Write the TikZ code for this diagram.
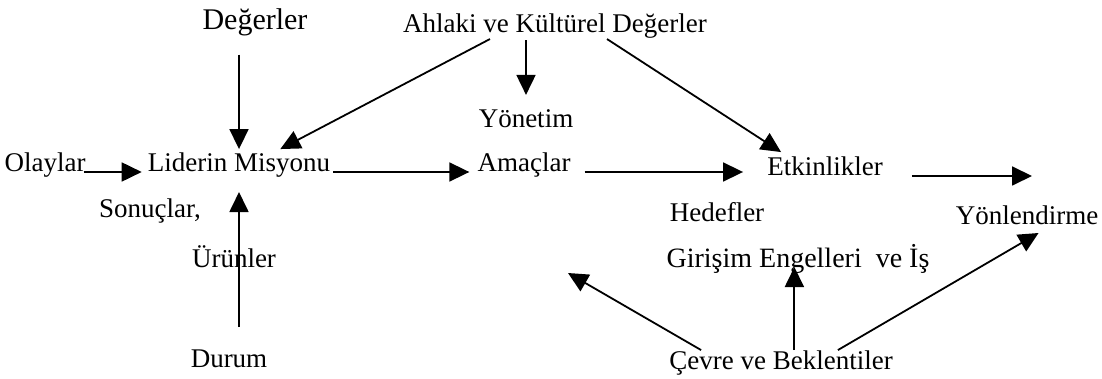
\documentclass[tikz,border=0pt]{standalone}
\usepackage{fontspec}
\setmainfont{Liberation Serif}
\usetikzlibrary{arrows.meta}
\tikzset{
  lbl/.style={inner sep=0pt,anchor=base,font=\fontsize{27}{30}\selectfont},
  arr/.style={line width=1.8pt,-{Triangle[length=20pt,width=19pt]}}
}
\begin{document}
\begin{tikzpicture}[x=1pt,y=-1pt]
\useasboundingbox (0,0) rectangle (1102,379);
\node[lbl,font=\fontsize{30}{33}\selectfont] (deger) at (255,30) {Değerler};
\node[lbl] (ahlak) at (555,33) {Ahlaki ve Kültürel Değerler};
\node[lbl] (olay) at (45,172) {Olaylar};
\node[lbl] (lider) at (239,172) {Liderin Misyonu};
\node[lbl] (yonet) at (526,128) {Yönetim};
\node[lbl] (amac) at (524,172) {Amaçlar};
\node[lbl] (etkin) at (825,176) {Etkinlikler};
\node[lbl] (hedef) at (717,222) {Hedefler};
\node[lbl] (yonl) at (1027,225) {Yönlendirme};
\node[lbl,font=\fontsize{28}{31}\selectfont] (giris) at (798,267) {Girişim Engelleri\ \ ve İş};
\node[lbl] (sonuc) at (150,218) {Sonuçlar,};
\node[lbl] (urun) at (234,267) {Ürünler};
\node[lbl] (durum) at (229,367) {Durum};
\node[lbl] (cevre) at (781,369) {Çevre ve Beklentiler};
\coordinate (etkout) at (1032,176);
\coordinate (cevout) at (568,273);
\coordinate (girisin) at ([xshift=128pt]giris.base west);
\draw[arr,shorten <=-2pt,shorten >=6pt] (olay.base east) -- (lider.base west);
\draw[arr,shorten <=18pt,shorten >=4pt] (lider.north |- deger.south) -- (lider.north);
\draw[arr] ([xshift=87pt]ahlak.south west) -- ([xshift=-50pt,yshift=4pt]lider.north east);
\draw[arr,shorten <=1pt,shorten >=15pt] (ahlak.south -| yonet.north) -- (yonet.north);
\draw[arr] ([xshift=204pt]ahlak.south west) -- ([xshift=14pt,yshift=5pt]etkin.north west);
\draw[arr,shorten <=3pt,shorten >=8pt] (lider.base east) -- (amac.base west);
\draw[arr,shorten <=14pt,shorten >=24pt] (amac.base east) -- (amac.base east -| etkin.base west);
\draw[arr,shorten <=29pt] (etkin.base east) -- (etkout);
\draw[arr,shorten <=22pt,shorten >=14pt] (lider.south |- durum.north) -- (lider.south);
\draw[arr] ([xshift=32pt]cevre.north west) -- (cevout);
\draw[arr] (girisin |- cevre.north) -- (girisin);
\draw[arr] ([xshift=-55pt]cevre.north east) -- ([xshift=83pt,yshift=-8pt]yonl.base west);
\end{tikzpicture}
\end{document}
